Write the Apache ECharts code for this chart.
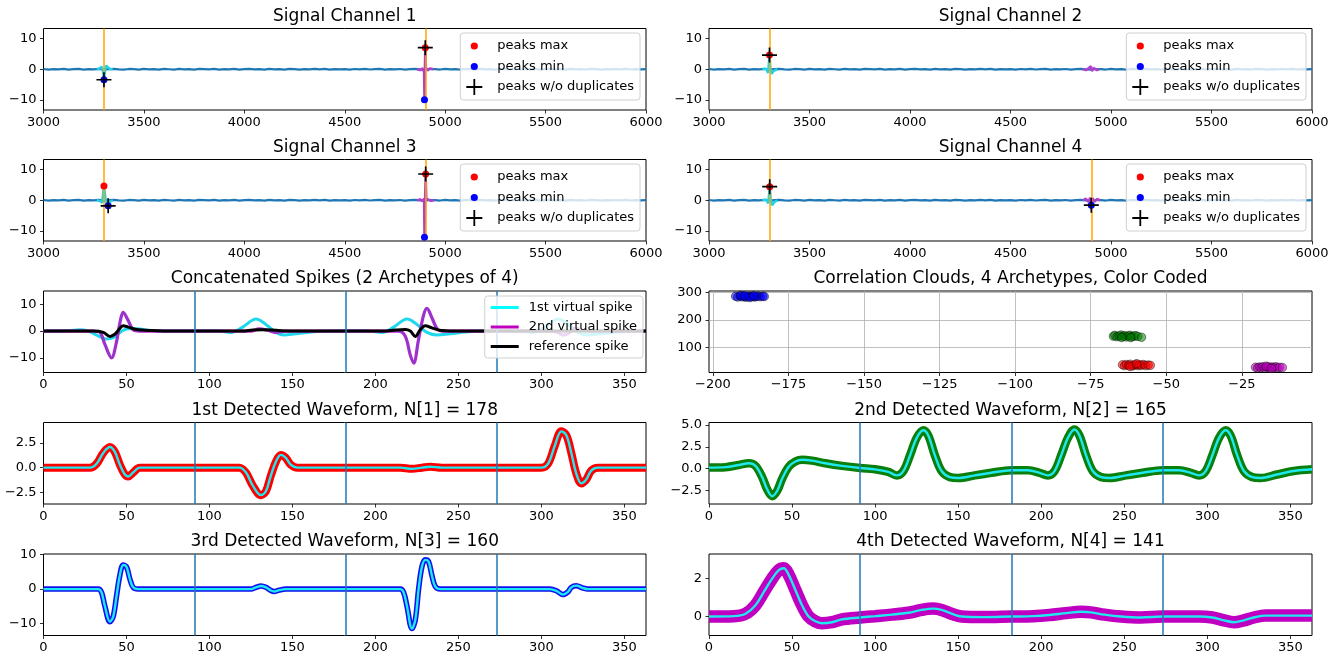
<!DOCTYPE html>
<html><head><meta charset="utf-8">
<script src="https://cdn.jsdelivr.net/npm/echarts@6/dist/echarts.min.js"></script>
<style>html,body{margin:0;padding:0;background:#fff}#c{width:1341px;height:656px}</style>
</head><body><div id="c"></div><script>
// ---------------- DATA ----------------
const chTicksX = [3000, 3500, 4000, 4500, 5000, 5500, 6000];
const chTicksY = [-10, 0, 10];
const wfTicksX = [0, 50, 100, 150, 200, 250, 300, 350];
const segBounds = [91, 182, 273];
const corrTicksX = [-200, -175, -150, -125, -100, -75, -50, -25];
const corrTicksY = [100, 200, 300];
const concatTicksY = [-10, 0, 10];
const wf1TicksY = [-2.5, 0, 2.5];
const wf2TicksY = [-2.5, 0, 2.5, 5];
const wf3TicksY = [-10, 0, 10];
const wf4TicksY = [0, 2];

const titles = ['Signal Channel 1', 'Signal Channel 2', 'Signal Channel 3', 'Signal Channel 4',
  'Concatenated Spikes (2 Archetypes of 4)', 'Correlation Clouds, 4 Archetypes, Color Coded',
  '1st Detected Waveform, N[1] = 178', '2nd Detected Waveform, N[2] = 165',
  '3rd Detected Waveform, N[3] = 160', '4th Detected Waveform, N[4] = 141'];

// baseline raw signal (sampled every 25 from 3000)
const baseStart = 3000, baseStep = 25;
const baseNoise = [0.08,-0.12,0.05,-0.06,0.12,-0.1,0.03,0.11,-0.12,0.06,
  -0.04,0.1,-0.11,0.06,0.13,-0.06,-0.12,0.09,0.03,-0.1,
  0.12,-0.06,0.06,-0.12,0.1,0.0,-0.1,0.12,-0.06,0.06,
  -0.12,0.1,0.03,-0.06,0.12,-0.1,0.06,-0.03,0.12,-0.12,
  0.06,0.1,-0.06,0.03,-0.12,0.12,-0.06,0.06,-0.1,0.12,
  0.03,-0.12,0.06,-0.06,0.1,-0.03,0.12,-0.1,0.06,-0.06,
  0.04,-0.1,0.08,-0.05,0.11,-0.09,0.04,0.1,-0.11,0.05,
  -0.05,0.09,-0.1,0.07,0.12,-0.07,-0.11,0.08,0.02,-0.09,
  0.11,-0.05,0.07,-0.11,0.09,0.01,-0.09,0.11,-0.07,0.05,
  -0.11,0.09,0.02,-0.07,0.11,-0.09,0.05,-0.04,0.11,-0.11,
  0.05,0.09,-0.07,0.02,-0.11,0.11,-0.05,0.07,-0.09,0.11,
  0.02,-0.11,0.05,-0.07,0.09,-0.04,0.11,-0.09,0.05,-0.05,0.04];

// spikes (cyan = near 3300, magenta = near 4900)
const ch1SpikeA = [[3265,0],[3280,0.3],[3290,0.8],[3296,-0.5],[3301,-3.4],[3306,-0.8],[3312,1.2],[3320,0.8],[3330,0.1],[3345,0]];
const ch1SpikeB = [[4860,0],[4875,-0.3],[4888,0.3],[4895,-1],[4897,-9.9],[4899,0],[4901,7],[4904,0.5],[4912,-0.4],[4925,0.3],[4940,0]];
const ch2SpikeA = [[3265,0],[3285,0.2],[3294,-1.2],[3301,4.6],[3306,0],[3312,-1.5],[3322,-0.5],[3340,0]];
const ch2SpikeB = [[4860,0],[4875,-0.3],[4890,0.4],[4900,1.0],[4905,-0.6],[4915,0.4],[4930,-0.3],[4940,0]];
const ch3SpikeA = [[3265,0],[3280,-0.2],[3292,-0.8],[3301,4.6],[3308,1.0],[3315,-1.2],[3322,-1.8],[3330,-0.5],[3345,0]];
const ch3SpikeB = [[4860,0],[4875,0.3],[4888,-0.3],[4895,0.5],[4897,-12],[4900,0],[4903,8.5],[4906,0.5],[4915,0.3],[4930,-0.2],[4945,0]];
const ch4SpikeA = [[3265,0],[3285,0.2],[3295,-1],[3302,4.4],[3307,0.5],[3314,-1.6],[3325,-0.6],[3340,0]];
const ch4SpikeB = [[4860,0],[4875,0.5],[4888,-0.6],[4896,0.8],[4902,-1.6],[4908,0.7],[4918,-0.5],[4930,0.4],[4945,0]];

const ch1PeaksMax = [[4901,7.0]];
const ch1PeaksMin = [[3301,-3.4],[4897,-9.9]];
const ch1PeaksClean = [[3301,-3.4],[4901,7.0]];
const ch2PeaksMax = [[3301,4.6]];
const ch2PeaksMin = [];
const ch2PeaksClean = [[3301,4.6]];
const ch3PeaksMax = [[3301,4.6],[4903,8.5]];
const ch3PeaksMin = [[3322,-1.8],[4897,-12]];
const ch3PeaksClean = [[3322,-1.8],[4903,8.5]];
const ch4PeaksMax = [[3302,4.4]];
const ch4PeaksMin = [[4902,-1.6]];
const ch4PeaksClean = [[3302,4.4],[4902,-1.6]];

const ch1Marks = [3302, 4901];
const ch2Marks = [3302];
const ch3Marks = [3302, 4901];
const ch4Marks = [3302, 4902];

// concatenated spikes
const virtSpike1 = [[0,0],[10,0],[18,0.3],[22,0.5],[27,0],[32,-1.5],[38,-3],[42,-2.5],[46,-0.5],[50,0.8],[55,1.0],[62,0.4],[70,0],[91,0],[105,0],[113,-0.5],[120,1.5],[128,4.5],[134,2.5],[140,-0.5],[145,-1.5],[152,-1.0],[165,-0.2],[182,0],[196,0],[204,-0.5],[211,1.5],[219,4.5],[225,2.5],[231,-0.5],[237,-1.5],[245,-1.0],[258,-0.2],[273,0],[287,0],[295,-0.5],[302,1.5],[310,4.5],[316,2.5],[322,-0.5],[328,-1.5],[336,-1.0],[350,-0.2],[363,0]];
const virtSpike2 = [[0,0],[30,0],[34,-0.5],[37,-5],[41,-10],[44,-4],[46,3],[48,7],[51,4],[54,0.5],[58,0],[91,0],[125,0],[130,0.8],[135,0.3],[140,-0.5],[146,0],[182,0],[214,0],[218,-2],[221,-9],[223,-12],[226,-3],[229,6],[231,8.5],[234,5],[237,1],[240,0],[273,0],[305,0],[310,-0.5],[313,-1.5],[317,-0.5],[320,1.0],[326,0.2],[330,0],[363,0]];
const refSpike = [[0,0],[30,0],[36,-0.5],[40,-2],[43,-1.2],[46,1],[48,2],[51,1.5],[56,0.6],[65,0.2],[80,0],[91,0],[120,0],[126,0.4],[132,0.5],[140,0.3],[150,0],[182,0],[205,0],[212,0.4],[218,0.6],[221,0],[224,-2],[227,0.5],[230,2],[234,1.2],[240,0.2],[250,0],[273,0],[363,0]];

// correlation clouds
const blueCloud = [[-192.5,286],[-191.8,283],[-191,287],[-190.4,284],[-189.8,286],[-189.2,282],[-188.6,285],[-188,287],[-187.4,284],[-186.8,286],[-186.2,283],[-185.6,285],[-185,287],[-184.3,284],[-183.5,286],[-190.8,289],[-187.8,281],[-189.5,288],[-186.5,288],[-183,285]];
const greenCloud = [[-67.5,141],[-67,144],[-66.3,139],[-65.6,142],[-65,145],[-64.4,140],[-63.8,143],[-63.2,138],[-62.6,142],[-62,144],[-61.4,139],[-60.8,141],[-60.2,143],[-59.4,140],[-58.2,137],[-64.8,136],[-61.8,136]];
const redCloud = [[-64.5,37],[-63.8,34],[-63.2,38],[-62.5,35],[-61.9,39],[-61.2,33],[-60.6,36],[-60,38],[-59.4,34],[-58.8,37],[-58.2,35],[-57.5,38],[-56.8,34],[-56,36],[-55.3,35],[-62,31],[-59.8,41]];
const magentaCloud = [[-20.5,28],[-19.8,26],[-19.2,29],[-18.6,27],[-18,30],[-17.4,25],[-16.8,28],[-16.2,30],[-15.6,26],[-15,29],[-14.4,27],[-13.8,30],[-13.2,26],[-12.5,28],[-11.6,27],[-17,32],[-15.2,24]];

// detected waveform means
const wf1Mean = [[0,0],[28,0],[32,0.4],[36,1.5],[40,2.1],[43,1.6],[46,0.3],[49,-0.7],[51,-0.9],[54,-0.5],[58,0],[91,0],[118,0],[122,-0.5],[126,-1.8],[131,-2.8],[134,-2.4],[137,-0.8],[140,0.6],[143,1.3],[146,1.0],[149,0.3],[153,0],[182,0],[215,0],[222,-0.12],[228,0],[233,0.1],[240,0],[273,0],[300,0],[304,0.4],[308,2.2],[312,3.7],[315,3.3],[318,1.5],[321,-0.6],[324,-1.6],[327,-1.2],[330,-0.3],[334,0],[363,0]];
const wf2Mean = [[0,0.1],[10,0.15],[18,0.4],[24,0.6],[28,0.3],[32,-1.0],[35,-2.4],[38,-3.2],[41,-2.6],[44,-1.2],[48,0.2],[52,0.8],[56,1.0],[62,0.9],[70,0.6],[80,0.3],[91,0.05],[100,-0.1],[108,-0.4],[113,-0.8],[117,-0.3],[121,1.5],[125,3.5],[129,4.4],[132,3.8],[136,1.5],[140,-0.3],[145,-1.0],[150,-1.1],[160,-0.8],[170,-0.5],[182,-0.2],[192,-0.2],[199,-0.5],[204,-0.8],[208,-0.3],[212,1.5],[216,3.5],[220,4.5],[223,3.8],[227,1.5],[231,-0.3],[236,-1.0],[241,-1.1],[251,-0.8],[261,-0.5],[273,-0.2],[283,-0.2],[290,-0.5],[295,-0.8],[299,-0.3],[303,1.5],[307,3.5],[311,4.4],[314,3.8],[318,1.5],[322,-0.3],[327,-1.0],[332,-1.1],[342,-0.7],[352,-0.3],[363,-0.1]];
const wf3Mean = [[0,0],[33,0],[35,-1],[37,-5],[40,-9.5],[42,-8],[44,-2],[46,4],[48,7],[50,6.5],[52,3],[54,0.5],[57,0],[91,0],[125,0],[128,0.5],[131,0.9],[134,0.5],[137,-0.4],[139,-0.7],[142,-0.3],[146,0],[182,0],[215,0],[217,-1],[219,-5],[222,-11.5],[224,-9],[226,0],[228,6.5],[230,8.5],[232,8],[234,4],[236,0.8],[239,0],[273,0],[305,0],[309,-0.5],[313,-1.6],[316,-0.8],[318,0.5],[321,1.0],[325,0.3],[328,0],[363,0]];
const wf4Mean = [[0,0],[15,0.02],[22,0.15],[28,0.6],[33,1.3],[38,2.0],[42,2.45],[45,2.55],[48,2.2],[52,1.4],[56,0.6],[60,0],[64,-0.25],[68,-0.35],[74,-0.3],[80,-0.15],[91,-0.05],[100,0.02],[110,0.1],[120,0.2],[128,0.35],[135,0.42],[140,0.35],[146,0.15],[152,0],[165,-0.03],[182,0],[195,0.02],[205,0.08],[215,0.18],[224,0.25],[230,0.22],[238,0.1],[248,0],[260,-0.05],[273,0],[295,0],[303,-0.05],[310,-0.2],[316,-0.3],[322,-0.2],[328,-0.05],[335,0.05],[345,0.05],[363,0.05]];

// ---------------- LAYOUT / STYLE ----------------
const FONT = 'DejaVu Sans';
const L = 43.5, LW = 602.5, R = 709, RW = 603, H = 81.5;
const rowTops = [28.5, 159.5, 291, 422.5, 554];
const panels = [];
for (let r = 0; r < 5; r++) { panels.push({x: L, w: LW, top: rowTops[r]}); panels.push({x: R, w: RW, top: rowTops[r]}); }

const grid = panels.map(p => ({left: p.x, top: p.top, width: p.w, height: H, show: true,
  borderColor: '#000', borderWidth: 1, backgroundColor: 'transparent', containLabel: false, outerBoundsMode: 'none'}));

const title = panels.map((p, i) => ({text: titles[i], left: p.x + p.w / 2, top: p.top - 20.5, textAlign: 'center', padding: 0,
  textStyle: {fontFamily: FONT, fontSize: 17, fontWeight: 'normal', color: '#000'}}));

function fmt(v, dec) { const s = dec != null ? Number(v).toFixed(dec) : String(v); return s.replace('-', '\u2212'); }
function axis(gi, min, max, ticks, isY, dec, gridLines) {
  return {type: 'value', gridIndex: gi, min, max, scale: true,
    axisLine: {show: false, onZero: false},
    splitLine: {show: !!gridLines, lineStyle: {color: '#b0b0b0', width: 0.8}},
    axisTick: {show: true, length: 3.5, lineStyle: {color: '#000', width: 0.8}, customValues: ticks},
    axisLabel: {customValues: ticks, margin: isY ? 7 : 6, fontSize: 13, color: '#000', fontFamily: FONT,
      formatter: v => fmt(v, dec)}};
}
const xAxis = [], yAxis = [];
const xr = [[3000,6000,chTicksX],[3000,6000,chTicksX],[3000,6000,chTicksX],[3000,6000,chTicksX],[0,363,wfTicksX],[-201.3,-1.8,corrTicksX],[0,363,wfTicksX],[0,363,wfTicksX],[0,363,wfTicksX],[0,363,wfTicksX]];
const yr = [[-13.2,13.2,chTicksY,null],[-13.2,13.2,chTicksY,null],[-13.2,13.2,chTicksY,null],[-13.2,13.2,chTicksY,null],[-15.5,15,concatTicksY,null],[9,305,corrTicksY,null],[-3.7,4.6,wf1TicksY,1],[-4.1,5.3,wf2TicksY,1],[-13.5,10.2,wf3TicksY,null],[-1.0,3.3,wf4TicksY,null]];
for (let i = 0; i < 10; i++) {
  xAxis.push(axis(i, xr[i][0], xr[i][1], xr[i][2], false, null, i === 5));
  yAxis.push(axis(i, yr[i][0], yr[i][1], yr[i][2], true, yr[i][3], i === 5));
}

const plusPath = 'path://M7.1,0h1.8v7.1h7.1v1.8h-7.1v7.1h-1.8v-7.1h-7.1v-1.8h7.1z';
const dotIcon = 'path://M0,0h0.02v0.02h-0.02z M15.98,15.98h0.02v0.02h-0.02z M4.4,8a3.6,3.6 0 1,0 7.2,0a3.6,3.6 0 1,0 -7.2,0z';
const lineIcon = 'path://M0,0h28v3h-28z';

const series = [];
const chData = [
  {a: ch1SpikeA, b: ch1SpikeB, mx: ch1PeaksMax, mn: ch1PeaksMin, cl: ch1PeaksClean, marks: ch1Marks},
  {a: ch2SpikeA, b: ch2SpikeB, mx: ch2PeaksMax, mn: ch2PeaksMin, cl: ch2PeaksClean, marks: ch2Marks},
  {a: ch3SpikeA, b: ch3SpikeB, mx: ch3PeaksMax, mn: ch3PeaksMin, cl: ch3PeaksClean, marks: ch3Marks},
  {a: ch4SpikeA, b: ch4SpikeB, mx: ch4PeaksMax, mn: ch4PeaksMin, cl: ch4PeaksClean, marks: ch4Marks}];
const baseline = baseNoise.map((v, i) => [baseStart + baseStep * i, v]);
chData.forEach((c, gi) => {
  series.push({type: 'line', name: 'raw' + gi, xAxisIndex: gi, yAxisIndex: gi, data: baseline, symbol: 'none', lineStyle: {color: '#1f77b4', width: 2.2}, z: 2});
  series.push({type: 'line', name: 'spikeA' + gi, xAxisIndex: gi, yAxisIndex: gi, data: c.a, symbol: 'none', lineStyle: {color: '#22d3e8', width: 2.5}, z: 3});
  series.push({type: 'line', name: 'spikeB' + gi, xAxisIndex: gi, yAxisIndex: gi, data: c.b, symbol: 'none', lineStyle: {color: '#b040d0', width: 2.5}, z: 3});
  series.push({type: 'line', name: 'marks' + gi, xAxisIndex: gi, yAxisIndex: gi, data: [], symbol: 'none', z: 4,
    markLine: {silent: true, symbol: ['none', 'none'], label: {show: false}, lineStyle: {color: '#ffa500', width: 1.5, type: 'solid'},
      data: c.marks.map(x => ({xAxis: x}))}});
  series.push({type: 'scatter', name: 'peaks max', xAxisIndex: gi, yAxisIndex: gi, data: c.mx, symbol: 'circle', symbolSize: 7, itemStyle: {color: '#ff0000', opacity: 1}, z: 5});
  series.push({type: 'scatter', name: 'peaks min', xAxisIndex: gi, yAxisIndex: gi, data: c.mn, symbol: 'circle', symbolSize: 7, itemStyle: {color: '#0000ff', opacity: 1}, z: 5});
  series.push({type: 'scatter', name: 'peaks w/o duplicates', xAxisIndex: gi, yAxisIndex: gi, data: c.cl, symbol: plusPath, symbolSize: 15, itemStyle: {color: '#000', opacity: 1}, z: 6});
});

// concatenated
series.push({type: 'line', name: 'seg4', xAxisIndex: 4, yAxisIndex: 4, data: [], symbol: 'none', z: 2,
  markLine: {silent: true, symbol: ['none','none'], label: {show: false}, lineStyle: {color: '#1f77b4', width: 1.5, type: 'solid'}, data: segBounds.map(x => ({xAxis: x}))}});
series.push({type: 'line', name: '1st virtual spike', xAxisIndex: 4, yAxisIndex: 4, data: virtSpike1, symbol: 'none', smooth: 0.35, lineStyle: {color: '#1fd8ec', width: 3}, itemStyle: {color: '#00ffff'}, z: 3});
series.push({type: 'line', name: '2nd virtual spike', xAxisIndex: 4, yAxisIndex: 4, data: virtSpike2, symbol: 'none', smooth: 0.35, lineStyle: {color: '#c020c8', width: 3.2}, itemStyle: {color: '#bf00bf'}, z: 3});
series.push({type: 'line', name: 'virt2inner', xAxisIndex: 4, yAxisIndex: 4, data: virtSpike2, symbol: 'none', smooth: 0.35, lineStyle: {color: '#7048d0', width: 1.3}, z: 3});
series.push({type: 'line', name: 'reference spike', xAxisIndex: 4, yAxisIndex: 4, data: refSpike, symbol: 'none', smooth: 0.35, lineStyle: {color: '#000', width: 3}, itemStyle: {color: '#000'}, z: 4});

// correlation clouds
[[blueCloud, 'rgba(0,0,255,0.55)'], [greenCloud, 'rgba(0,128,0,0.55)'], [redCloud, 'rgba(255,0,0,0.55)'], [magentaCloud, 'rgba(191,0,191,0.55)']].forEach((c, k) => {
  series.push({type: 'scatter', name: 'cloud' + k, xAxisIndex: 5, yAxisIndex: 5, data: c[0], symbol: 'circle', symbolSize: 8.5,
    itemStyle: {color: c[1], borderColor: 'rgba(0,0,0,0.55)', borderWidth: 0.8, opacity: 1}, z: 3});
});

// detected waveforms
const wfs = [[6, wf1Mean, '#ff0000', 8], [7, wf2Mean, '#0b7f0b', 8.5], [8, wf3Mean, '#1010f0', 5.5], [9, wf4Mean, '#c000c0', 12.5]];
wfs.forEach(w => {
  const gi = w[0];
  series.push({type: 'line', name: 'band' + gi, xAxisIndex: gi, yAxisIndex: gi, data: w[1], symbol: 'none', smooth: 0.35,
    lineStyle: {color: w[2], width: w[3]}, z: 2});
  series.push({type: 'line', name: 'mean' + gi, xAxisIndex: gi, yAxisIndex: gi, data: w[1], symbol: 'none', smooth: 0.35,
    lineStyle: {color: '#1ee8f0', width: 2.4}, z: 3});
  series.push({type: 'line', name: 'seg' + gi, xAxisIndex: gi, yAxisIndex: gi, data: [], symbol: 'none', z: 4,
    markLine: {silent: true, symbol: ['none','none'], label: {show: false}, lineStyle: {color: '#1f77b4', width: 1.5, type: 'solid'}, data: segBounds.map(x => ({xAxis: x}))}});
});

// legends
const peakLegend = (p) => ({orient: 'vertical', right: 1341 - (p.x + p.w - 6), top: p.top + 4.5,
  backgroundColor: 'rgba(255,255,255,0.8)', borderColor: '#d0d0d0', borderWidth: 1, borderRadius: 3,
  padding: [5, 6, 5, 6], itemGap: 4.5, itemWidth: 26, itemHeight: 16, z: 10,
  textStyle: {fontFamily: FONT, fontSize: 13, color: '#000', padding: [0, 0, 0, 5]},
  data: [{name: 'peaks max', icon: dotIcon}, {name: 'peaks min', icon: dotIcon}, {name: 'peaks w/o duplicates', icon: plusPath}]});
const legend = [peakLegend(panels[0]), peakLegend(panels[1]), peakLegend(panels[2]), peakLegend(panels[3]),
  {orient: 'vertical', right: 1341 - (panels[4].x + panels[4].w - 3), top: panels[4].top + 5,
   backgroundColor: 'rgba(255,255,255,0.8)', borderColor: '#d0d0d0', borderWidth: 1, borderRadius: 3,
   padding: [5, 6, 5, 6], itemGap: 6.5, itemWidth: 28, itemHeight: 14, z: 10,
   textStyle: {fontFamily: FONT, fontSize: 13, color: '#000', padding: [0, 0, 0, 5]},
   data: [{name: '1st virtual spike', icon: lineIcon}, {name: '2nd virtual spike', icon: lineIcon}, {name: 'reference spike', icon: lineIcon}]}];

const chart = echarts.init(document.getElementById('c'), null, {renderer: 'canvas'});
chart.setOption({animation: false, backgroundColor: '#fff', title, grid, xAxis, yAxis, series, legend});
</script></body></html>
